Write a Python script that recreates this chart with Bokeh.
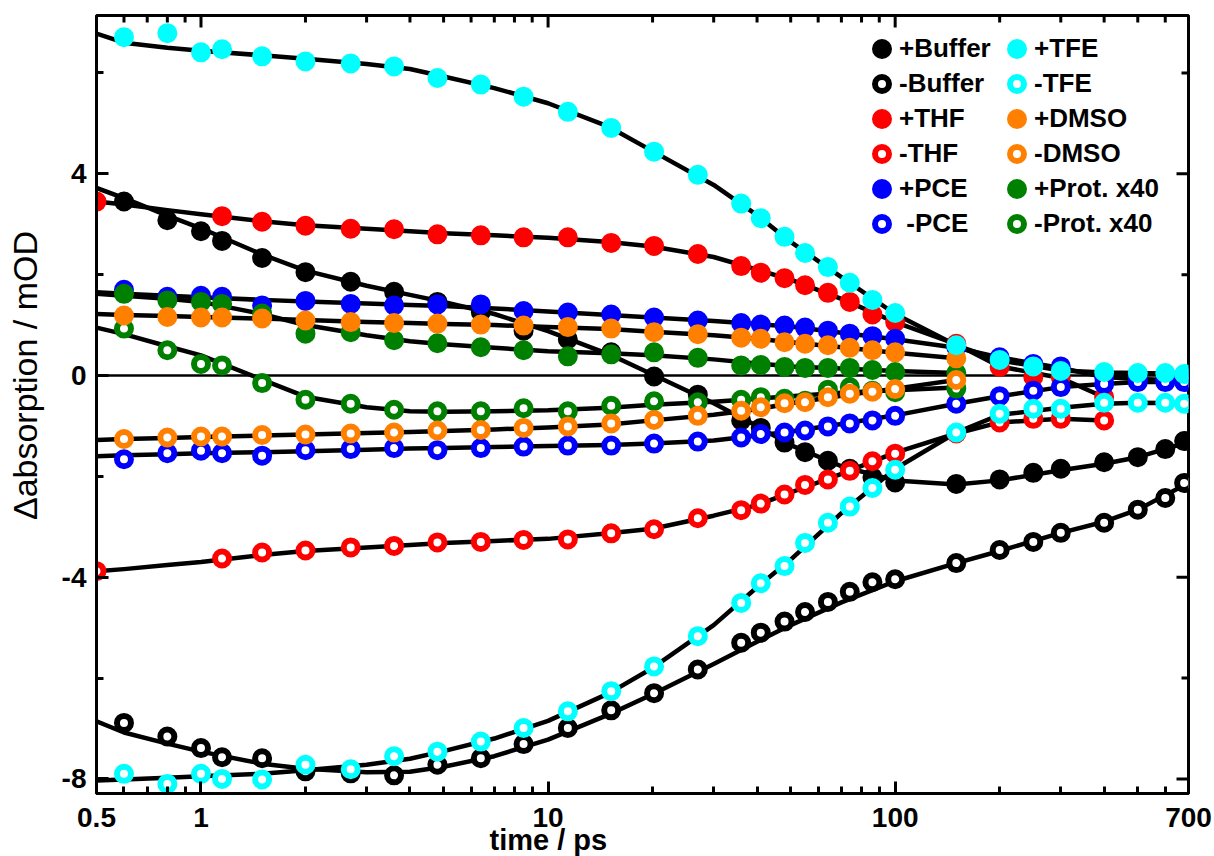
import numpy as np
from bokeh.plotting import figure
from bokeh.models import (FixedTicker, Span, Label, Title, Legend, LegendItem,
                          ColumnDataSource, CustomJSTickFormatter)
from bokeh.embed import file_html
from bokeh.resources import INLINE

# ---------------- data ----------------
T_FULL = [0.6, 0.8, 1.0, 1.15, 1.5, 2.0, 2.7, 3.6, 4.8, 6.4, 8.5, 11.4, 15.2, 20.2, 27, 36, 41,
          48, 55, 64, 74, 86, 100, 150, 200, 250, 300, 400, 500, 600, 680]
T_THF = [0.5, 1.15, 1.5, 2.0, 2.7, 3.6, 4.8, 6.4, 8.5, 11.4, 15.2, 20.2, 27, 36, 41, 48, 55,
         64, 74, 86, 100, 150, 200, 250, 300, 400]
T_SHORT = T_FULL[:24]  # up to 150 ps

BUF_P = [3.45, 3.08, 2.86, 2.67, 2.33, 2.05, 1.86, 1.66, 1.46, 1.26, 0.89, 0.72, 0.46, -0.02,
         -0.38, -0.89, -1.04, -1.33, -1.52, -1.69, -1.85, -2.02, -2.12, -2.15, -2.06, -1.93,
         -1.85, -1.72, -1.62, -1.46, -1.30]
BUF_M = [-6.89, -7.16, -7.39, -7.57, -7.59, -7.85, -7.89, -7.93, -7.72, -7.59, -7.31, -6.99,
         -6.64, -6.30, -5.83, -5.30, -5.10, -4.88, -4.69, -4.49, -4.29, -4.10, -4.04, -3.72,
         -3.46, -3.30, -3.12, -2.92, -2.66, -2.43, -2.13]
TFE_P = [6.71, 6.79, 6.41, 6.47, 6.33, 6.23, 6.19, 6.13, 5.90, 5.77, 5.53, 5.23, 4.91, 4.44,
         3.98, 3.41, 3.12, 2.75, 2.43, 2.15, 1.84, 1.50, 1.24, 0.60, 0.31, 0.18, 0.09, 0.07,
         0.05, 0.05, 0.03]
TFE_M = [-7.90, -8.10, -7.90, -8.00, -8.01, -7.72, -7.81, -7.55, -7.46, -7.26, -6.99, -6.66,
         -6.26, -5.77, -5.17, -4.51, -4.12, -3.78, -3.32, -2.92, -2.60, -2.23, -1.87, -1.13,
         -0.76, -0.66, -0.66, -0.54, -0.54, -0.54, -0.56]
THF_P = [3.45, 3.16, 3.05, 2.97, 2.91, 2.90, 2.80, 2.78, 2.74, 2.74, 2.63, 2.57, 2.41, 2.17,
         2.04, 1.93, 1.79, 1.64, 1.46, 1.21, 1.06, 0.63, 0.17, -0.03, -0.03, -0.43]
THF_M = [-3.88, -3.63, -3.51, -3.47, -3.41, -3.38, -3.31, -3.30, -3.26, -3.25, -3.13, -3.05,
         -2.83, -2.67, -2.54, -2.36, -2.17, -2.06, -1.89, -1.70, -1.55, -1.15, -0.93, -0.86,
         -0.86, -0.89]
PCE_P = [1.70, 1.56, 1.58, 1.56, 1.39, 1.48, 1.42, 1.39, 1.41, 1.41, 1.28, 1.25, 1.21, 1.15,
         1.09, 1.04, 1.01, 0.99, 0.95, 0.89, 0.83, 0.78, 0.73, 0.56, 0.36, 0.23, 0.18, -0.03,
         -0.07, -0.10, -0.10]
PCE_M = [-1.66, -1.54, -1.49, -1.54, -1.59, -1.48, -1.46, -1.44, -1.48, -1.44, -1.41, -1.39,
         -1.39, -1.35, -1.31, -1.23, -1.16, -1.13, -1.09, -1.01, -0.95, -0.89, -0.80, -0.56,
         -0.41, -0.30, -0.23, -0.17, -0.13, -0.13, -0.13]
DMSO_P = [1.19, 1.16, 1.15, 1.15, 1.13, 1.09, 1.06, 1.04, 1.03, 1.01, 0.99, 0.96, 0.93, 0.86,
          0.82, 0.75, 0.73, 0.66, 0.63, 0.60, 0.55, 0.50, 0.46, 0.34]
DMSO_M = [-1.26, -1.23, -1.21, -1.21, -1.18, -1.17, -1.15, -1.13, -1.09, -1.08, -1.04, -1.01,
          -0.95, -0.88, -0.80, -0.70, -0.63, -0.55, -0.53, -0.43, -0.36, -0.32, -0.27, -0.09]
PROT_P = [1.62, 1.49, 1.46, 1.42, 1.23, 0.83, 0.86, 0.70, 0.64, 0.56, 0.50, 0.38, 0.42, 0.46,
          0.35, 0.20, 0.21, 0.17, 0.15, 0.15, 0.15, 0.11, 0.07, 0.05]
PROT_M = [0.93, 0.50, 0.23, 0.20, -0.15, -0.48, -0.56, -0.68, -0.71, -0.71, -0.65, -0.71,
          -0.60, -0.51, -0.53, -0.48, -0.43, -0.46, -0.50, -0.28, -0.23, -0.30, -0.33, -0.26]

# fit curves sampled on a common grid
FT = [0.5, 0.6, 0.8, 1, 1.5, 2, 3, 4, 5, 7, 10, 15, 20, 30, 40, 50, 70, 100, 150, 200, 300,
      400, 500, 700]
FIT_BUF_P = [3.72, 3.52, 3.17, 2.92, 2.40, 2.08, 1.78, 1.60, 1.46, 1.22, 0.88, 0.42, 0.02, -0.55,
             -1.00, -1.38, -1.80, -2.08, -2.16, -2.08, -1.88, -1.75, -1.62, -1.32]
FIT_BUF_M = [-6.86, -7.08, -7.30, -7.46, -7.70, -7.80, -7.87, -7.86, -7.76, -7.55, -7.22, -6.72,
             -6.32, -5.72, -5.28, -4.95, -4.50, -4.08, -3.72, -3.48, -3.12, -2.90, -2.66, -2.13]
FIT_TFE_P = [6.78, 6.60, 6.50, 6.44, 6.35, 6.28, 6.18, 6.08, 5.93, 5.70, 5.40, 4.93, 4.45, 3.78,
             3.18, 2.65, 1.95, 1.22, 0.60, 0.30, 0.10, 0.06, 0.05, 0.03]
FIT_TFE_M = [-8.03, -8.01, -7.98, -7.95, -7.90, -7.83, -7.72, -7.60, -7.45, -7.20, -6.85, -6.30,
             -5.80, -4.95, -4.20, -3.65, -2.73, -1.85, -1.13, -0.78, -0.64, -0.56, -0.54, -0.55]
FIT_THF_P = [3.45, 3.39, 3.28, 3.20, 3.06, 2.98, 2.91, 2.86, 2.82, 2.78, 2.73, 2.65, 2.56, 2.35,
             2.10, 1.90, 1.52, 1.06, 0.62, 0.18, -0.05, -0.43]
FIT_THF_M = [-3.88, -3.84, -3.76, -3.70, -3.56, -3.48, -3.41, -3.36, -3.32, -3.28, -3.24, -3.13,
             -3.04, -2.78, -2.57, -2.32, -1.95, -1.53, -1.15, -0.93, -0.86, -0.89]
FIT_PCE_P = [1.65, 1.62, 1.58, 1.55, 1.50, 1.47, 1.43, 1.40, 1.38, 1.33, 1.27, 1.20, 1.15, 1.08,
             1.02, 0.97, 0.85, 0.72, 0.55, 0.36, 0.15, -0.03, -0.07, -0.10]
FIT_PCE_M = [-1.60, -1.58, -1.56, -1.54, -1.52, -1.50, -1.47, -1.45, -1.44, -1.42, -1.40, -1.38,
             -1.35, -1.29, -1.19, -1.11, -0.96, -0.79, -0.56, -0.41, -0.23, -0.17, -0.13, -0.13]
FIT_DMSO_P = [1.22, 1.20, 1.18, 1.16, 1.13, 1.10, 1.06, 1.04, 1.02, 1.00, 0.96, 0.92, 0.87, 0.80,
              0.73, 0.66, 0.56, 0.45, 0.34]
FIT_DMSO_M = [-1.28, -1.26, -1.24, -1.22, -1.19, -1.17, -1.14, -1.12, -1.10, -1.07, -1.03, -0.97,
              -0.89, -0.78, -0.67, -0.55, -0.40, -0.26, -0.09]
FIT_PROT_P = [1.62, 1.58, 1.52, 1.46, 1.22, 1.00, 0.80, 0.68, 0.62, 0.55, 0.48, 0.44, 0.40, 0.32,
              0.24, 0.18, 0.14, 0.09, 0.05]
FIT_PROT_M = [0.95, 0.82, 0.58, 0.40, -0.08, -0.42, -0.63, -0.71, -0.72, -0.71, -0.69, -0.64,
              -0.58, -0.52, -0.46, -0.41, -0.34, -0.29, -0.24]

X_RANGE = (0.5, 700)
Y_RANGE = (-8.29, 7.14)
X_TICKS = [0.5, 1, 10, 100, 700]
X_MINOR = [0.6, 0.7, 0.8, 0.9, 2, 3, 4, 5, 6, 7, 8, 9, 20, 30, 40, 50, 60, 70, 80, 90,
           200, 300, 400, 500, 600]
Y_TICKS = [-8, -4, 0, 4]
Y_MINOR = [-6, -2, 2, 6]

# series: label, times, values, fit values, colour, filled
SERIES = [
    ("+Buffer", T_FULL, BUF_P, FIT_BUF_P, "#000000", True),
    ("-Buffer", T_FULL, BUF_M, FIT_BUF_M, "#000000", False),
    ("+THF", T_THF, THF_P, FIT_THF_P, "#ff0000", True),
    ("-THF", T_THF, THF_M, FIT_THF_M, "#ff0000", False),
    ("+PCE", T_FULL, PCE_P, FIT_PCE_P, "#0000ff", True),
    (" -PCE", T_FULL, PCE_M, FIT_PCE_M, "#0000ff", False),
    ("+Prot. x40", T_SHORT, PROT_P, FIT_PROT_P, "#008000", True),
    ("-Prot. x40", T_SHORT, PROT_M, FIT_PROT_M, "#008000", False),
    ("+DMSO", T_SHORT, DMSO_P, FIT_DMSO_P, "#ff8000", True),
    ("-DMSO", T_SHORT, DMSO_M, FIT_DMSO_M, "#ff8000", False),
    ("+TFE", T_FULL, TFE_P, FIT_TFE_P, "#00ffff", True),
    ("-TFE", T_FULL, TFE_M, FIT_TFE_M, "#00ffff", False),
]

FONT = "Liberation Sans"

p = figure(width=1214, height=856, x_axis_type="log", x_range=X_RANGE, y_range=Y_RANGE,
           output_backend="svg", toolbar_location=None,
           min_border_left=96, min_border_right=26, min_border_top=15, min_border_bottom=63)
p.grid.visible = False
p.outline_line_color = "black"
p.outline_line_width = 3
p.background_fill_color = "white"
p.border_fill_color = "white"

xt = FixedTicker(ticks=X_TICKS, minor_ticks=X_MINOR)
yt = FixedTicker(ticks=Y_TICKS, minor_ticks=Y_MINOR)
fmt = CustomJSTickFormatter(code="return String(tick);")

for ax, tk, so in ((p.xaxis[0], xt, 14), (p.yaxis[0], yt, 10)):
    ax.ticker = tk
    ax.formatter = fmt
    ax.axis_line_width = 3
    ax.axis_line_color = "black"
    ax.major_tick_line_width = 3
    ax.minor_tick_line_width = 3
    ax.major_tick_in = 12
    ax.major_tick_out = 0
    ax.minor_tick_in = 7
    ax.minor_tick_out = 0
    ax.major_label_text_font = FONT
    ax.major_label_text_font_style = "bold"
    ax.major_label_text_color = "black"
    ax.major_label_text_font_size = "28px"
    ax.major_label_standoff = so

# mirrored ticks on the top and right frame edges (half of each dash is clipped)
p.scatter(X_TICKS, [Y_RANGE[1]] * len(X_TICKS), marker="dash", angle=np.pi / 2, size=24,
          line_width=3, line_color="black")
p.scatter(X_MINOR, [Y_RANGE[1]] * len(X_MINOR), marker="dash", angle=np.pi / 2, size=14,
          line_width=3, line_color="black")
p.scatter([X_RANGE[1]] * len(Y_TICKS), Y_TICKS, marker="dash", size=24, line_width=3,
          line_color="black")
p.scatter([X_RANGE[1]] * len(Y_MINOR), Y_MINOR, marker="dash", size=14, line_width=3,
          line_color="black")

p.add_layout(Span(location=0, dimension="width", line_color="black", line_width=2.5,
                  level="underlay"))

# fit lines
for label, t, y, fit, color, filled in SERIES:
    p.line(FT[:len(fit)], fit, line_color="black", line_width=4.5, line_join="round")

# markers
renderers = {}
for label, t, y, fit, color, filled in SERIES:
    src = ColumnDataSource(dict(t=t, y=y))
    r = p.scatter("t", "y", source=src, marker="circle", size=14, line_width=6,
                  line_color=color, fill_color=color if filled else "white")
    renderers[label] = r

left_labels = ["+Buffer", "-Buffer", "+THF", "-THF", "+PCE", " -PCE"]
right_labels = ["+TFE", "-TFE", "+DMSO", "-DMSO", "+Prot. x40", "-Prot. x40"]


def make_legend(labels, loc):
    return Legend(items=[LegendItem(label=l, renderers=[renderers[l]]) for l in labels],
                  location=loc, orientation="vertical", glyph_width=35, glyph_height=35,
                  label_standoff=0, spacing=0, padding=0, margin=0, border_line_color=None,
                  background_fill_alpha=0, label_text_font=FONT, label_text_font_style="bold",
                  label_text_font_size="26px", label_height=35, label_text_color="black")


p.add_layout(make_legend(left_labels, (768, 552)))
p.add_layout(make_legend(right_labels, (903, 552)))

# x-axis title (centred under the "10" tick, like the reference)
xtitle = Title(text="time / ps", align="left", offset=393, vertical_align="top", standoff=-12,
               text_font=FONT, text_font_size="29px", text_font_style="bold",
               text_color="black")
p.add_layout(xtitle, "below")
# y-axis title, kept in the left side panel so it is not clipped to the frame
ylab = Label(x=0.312, y=0, x_units="data", y_units="data", angle=np.pi / 2,
             text="\u0394absorption / mOD", text_align="center", text_baseline="alphabetic",
             text_font=FONT, text_font_size="34px", text_color="black")
p.add_layout(ylab, "left")

open("out.html", "w").write(file_html(p, INLINE))
